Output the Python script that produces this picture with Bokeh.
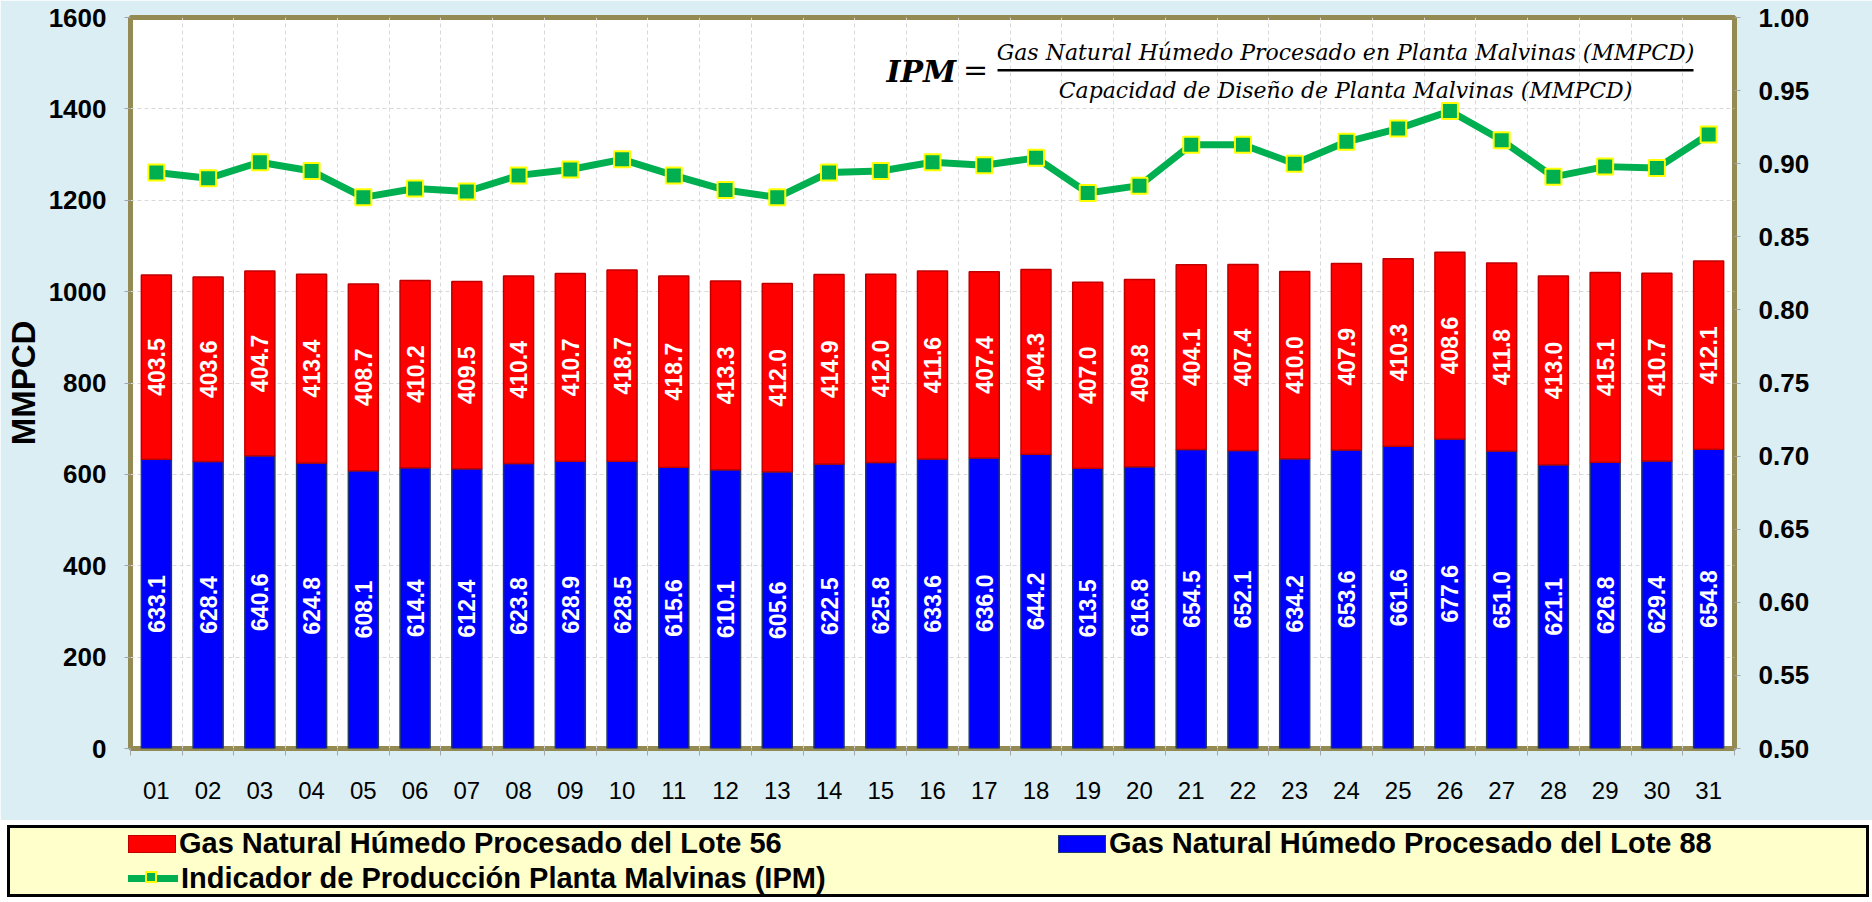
import math
from bokeh.plotting import figure
from bokeh.models import (ColumnDataSource, Range1d, LinearAxis, FixedTicker,
                          NumeralTickFormatter, Label, BoxAnnotation, Div)
from bokeh.layouts import column
from bokeh.core.properties import value
from bokeh.embed import file_html
from bokeh.resources import INLINE

# ---------------- data ----------------
days = ["01", "02", "03", "04", "05", "06", "07", "08", "09", "10",
        "11", "12", "13", "14", "15", "16", "17", "18", "19", "20",
        "21", "22", "23", "24", "25", "26", "27", "28", "29", "30", "31"]
lote88 = [633.1, 628.4, 640.6, 624.8, 608.1, 614.4, 612.4, 623.8, 628.9, 628.5,
          615.6, 610.1, 605.6, 622.5, 625.8, 633.6, 636.0, 644.2, 613.5, 616.8,
          654.5, 652.1, 634.2, 653.6, 661.6, 677.6, 651.0, 621.1, 626.8, 629.4, 654.8]
lote56 = [403.5, 403.6, 404.7, 413.4, 408.7, 410.2, 409.5, 410.4, 410.7, 418.7,
          418.7, 413.3, 412.0, 414.9, 412.0, 411.6, 407.4, 404.3, 407.0, 409.8,
          404.1, 407.4, 410.0, 407.9, 410.3, 408.6, 411.8, 413.0, 415.1, 410.7, 412.1]
ipm = [0.894, 0.890, 0.901, 0.895, 0.877, 0.883, 0.881, 0.892, 0.896, 0.903,
       0.892, 0.882, 0.877, 0.894, 0.895, 0.901, 0.899, 0.904, 0.880, 0.885,
       0.913, 0.913, 0.900, 0.915, 0.924, 0.936, 0.916, 0.891, 0.898, 0.897, 0.920]
left_ticks = [0, 200, 400, 600, 800, 1000, 1200, 1400, 1600]
right_ticks = [0.50, 0.55, 0.60, 0.65, 0.70, 0.75, 0.80, 0.85, 0.90, 0.95, 1.00]
name56 = "Gas Natural Húmedo Procesado del Lote 56"
name88 = "Gas Natural Húmedo Procesado del Lote 88"
name_ipm = "Indicador de Producción Planta Malvinas (IPM)"

BG = "#DAEEF3"
OLIVE = "#948A54"
GRID = "#D9D9D9"
FONT = "Liberation Sans"
C88, C88E = "#0000FF", "#203864"
C56, C56E = "#FF0000", "#C00000"
CG, CY = "#00B050", "#FFFF00"

xs = list(range(1, len(days) + 1))
bounds = [i + 0.5 for i in range(0, len(days) + 1)]
src = ColumnDataSource(dict(
    x=xs, lote88=lote88, lote56=lote56, ipm=ipm,
    y88=[v / 2 for v in lote88],
    y56=[a + b / 2 for a, b in zip(lote88, lote56)],
    t88=["%.1f" % v for v in lote88],
    t56=["%.1f" % v for v in lote56],
))

p = figure(width=1872, height=820, x_range=Range1d(0.5, len(days) + 0.5),
           y_range=Range1d(0, 1600), output_backend="svg", toolbar_location=None,
           min_border_left=130, min_border_right=138, min_border_top=17,
           min_border_bottom=72)
p.background_fill_color = "white"
p.border_fill_color = BG
p.outline_line_color = OLIVE
p.outline_line_width = 5

# grids
p.xgrid.ticker = FixedTicker(ticks=bounds)
for g in (p.xgrid[0], p.ygrid[0]):
    g.grid_line_color = GRID
    g.grid_line_dash = "4 3"
    g.grid_line_width = 1

# bars
p.vbar_stack(["lote88", "lote56"], x="x", width=0.58, source=src,
             fill_color=[C88, C56], line_color=[C88E, C56E], line_width=1.5)
for ycol, tcol in (("y88", "t88"), ("y56", "t56")):
    p.text(x="x", y=ycol, text=tcol, source=src, angle=math.pi / 2,
           text_align="center", text_baseline="middle", text_color="white",
           text_font=value(FONT), text_font_style="bold", text_font_size="23px")

# IPM line
p.extra_y_ranges = {"ipm": Range1d(0.5, 1.0)}
p.line("x", "ipm", source=src, y_range_name="ipm", line_color=CG, line_width=7)
p.scatter("x", "ipm", source=src, y_range_name="ipm", marker="square", size=16,
          fill_color=CG, line_color=CY, line_width=2)

# left axis
yl = p.yaxis[0]
yl.ticker = FixedTicker(ticks=left_ticks)
yl.axis_label = "MMPCD"
yl.axis_label_text_font = FONT
yl.axis_label_text_font_size = "33px"
yl.axis_label_text_font_style = "bold"
yl.axis_label_text_color = "black"
yl.axis_label_standoff = 4
yl.major_label_text_font = FONT
yl.major_label_text_font_size = "26px"
yl.major_label_text_font_style = "bold"
yl.major_label_text_color = "black"
yl.major_label_standoff = 18

# right axis
yr = LinearAxis(y_range_name="ipm", ticker=FixedTicker(ticks=right_ticks),
                formatter=NumeralTickFormatter(format="0.00"))
yr.major_label_text_font = FONT
yr.major_label_text_font_size = "26px"
yr.major_label_text_font_style = "bold"
yr.major_label_text_color = "black"
yr.major_label_standoff = 18
p.add_layout(yr, "right")

for ax in (yl, yr):
    ax.axis_line_color = None
    ax.major_tick_out = 6
    ax.major_tick_in = 0
    ax.minor_tick_out = 0
    ax.minor_tick_in = 0
    ax.major_tick_line_color = "#A6A6A6"

# x axis
xa = p.xaxis[0]
xa.ticker = FixedTicker(ticks=xs, minor_ticks=bounds)
xa.major_label_overrides = {x: d for x, d in zip(xs, days)}
xa.major_label_text_font = FONT
xa.major_label_text_font_size = "24px"
xa.major_label_text_color = "black"
xa.major_label_standoff = 26
xa.axis_line_color = None
xa.major_tick_out = 0
xa.major_tick_in = 0
xa.minor_tick_out = 7
xa.minor_tick_in = 0
xa.minor_tick_line_color = "#A6A6A6"

# right axis title (reads bottom-to-top)
p.add_layout(Label(x=1712, y=456, x_units="screen", y_units="screen",
                   text="Indicador de Producción (IPM)", angle=math.pi / 2,
                   text_align="center", text_baseline="middle",
                   text_font=FONT, text_font_size="25px", text_font_style="bold",
                   text_color="black"))

# formula
SERIF = "DejaVu Serif"
p.add_layout(Label(x=756, y=677, x_units="screen", y_units="screen", text="IPM",
                   text_align="left", text_baseline="middle", text_font=SERIF,
                   text_font_size="30px", text_font_style="bold italic", text_color="black"))
p.add_layout(Label(x=845, y=679, x_units="screen", y_units="screen", text="=",
                   text_align="center", text_baseline="middle", text_font=SERIF,
                   text_font_size="30px", text_color="black"))
p.add_layout(Label(x=1215, y=696, x_units="screen", y_units="screen",
                   text="Gas Natural Húmedo Procesado en Planta Malvinas (MMPCD)",
                   text_align="center", text_baseline="middle", text_font=SERIF,
                   text_font_size="22px", text_font_style="italic", text_color="black"))
p.add_layout(Label(x=1215, y=658, x_units="screen", y_units="screen",
                   text="Capacidad de Diseño de Planta Malvinas (MMPCD)",
                   text_align="center", text_baseline="middle", text_font=SERIF,
                   text_font_size="22px", text_font_style="italic", text_color="black"))
p.add_layout(BoxAnnotation(left=867, right=1563, bottom=677, top=679.5,
                           left_units="screen", right_units="screen",
                           bottom_units="screen", top_units="screen",
                           fill_color="black", fill_alpha=1, line_alpha=0))

# legend box (HTML, below the plot)
def item(left, top, swatch, label):
    return ('<div style="position:absolute;left:%dpx;top:%dpx;height:32px;'
            'display:flex;align-items:center;white-space:nowrap;">%s'
            '<span style="margin-left:3px;">%s</span></div>' % (left, top, swatch, label))

sw56 = ('<span style="display:inline-block;width:48px;height:18px;background:%s;'
        'border:1px solid %s;"></span>' % (C56, C56E))
sw88 = ('<span style="display:inline-block;width:48px;height:18px;background:%s;'
        'border:1px solid %s;"></span>' % (C88, C88E))
swl = ('<span style="position:relative;display:inline-block;width:50px;height:22px;">'
       '<span style="position:absolute;left:0;top:7px;width:50px;height:7px;background:%s;"></span>'
       '<span style="position:absolute;left:17px;top:3px;width:12px;height:12px;'
       'background:%s;border:2px solid %s;"></span></span>' % (CG, CG, CY))

legend_html = (
    '<div style="position:relative;margin:0 0 0 2px;width:1862px;height:72px;'
    'background:#FFFFCC;border:3px solid black;font-family:\'%s\';font-weight:bold;'
    'font-size:29px;color:black;">' % FONT
    + item(118, 0, sw56, name56)
    + item(1048, 0, sw88, name88)
    + item(118, 35, swl, name_ipm)
    + '</div>'
)
legend_div = Div(text=legend_html, width=1872, height=82)

layout = column(p, legend_div, spacing=0)
html = file_html(layout, INLINE)
html = html.replace("<body>", '<body style="background-color:%s;">' % BG, 1)
open("out.html", "w").write(html)
